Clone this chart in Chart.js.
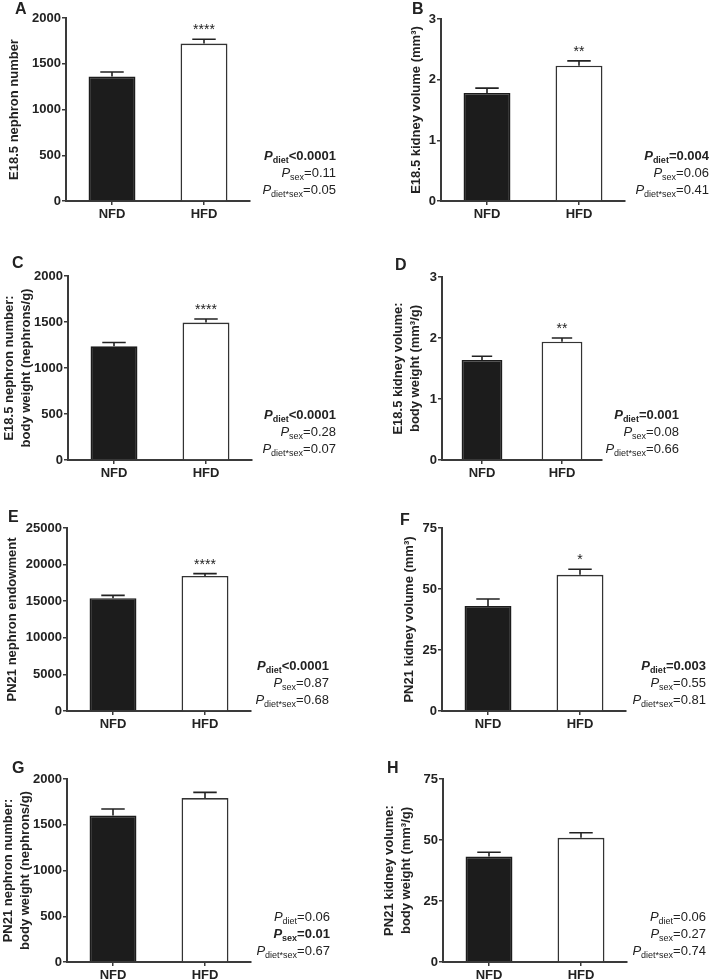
<!DOCTYPE html>
<html>
<head>
<meta charset="utf-8">
<script src="https://cdn.jsdelivr.net/npm/chart.js@4"></script>
<style>
    body { margin: 0; background: #fff; }
    #page { position: relative; width: 710px; height: 979px; overflow: hidden; background: #fff; }
    #page canvas { position: absolute; }
</style>
</head>
<body>
<div id="page"></div>
<script>
// Diet groups on every x axis
const GROUPS = ['NFD', 'HFD'];

const nephronE18 = [1360, 1720];
const nephronE18Sem = [50, 48];
const volumeE18 = [1.78, 2.23];
const volumeE18Sem = [0.08, 0.08];
const nephronBwE18 = [1236, 1494];
const nephronBwE18Sem = [41, 38];
const volumeBwE18 = [1.64, 1.94];
const volumeBwE18Sem = [0.06, 0.06];
const nephronPN21 = [15400, 18440];
const nephronPN21Sem = [400, 330];
const volumePN21 = [43.0, 55.8];
const volumePN21Sem = [2.9, 2.3];
const nephronBwPN21 = [1600, 1792];
const nephronBwPN21Sem = [72, 62];
const volumeBwPN21 = [43.2, 50.9];
const volumeBwPN21Sem = [1.8, 2.1];

// Two-way ANOVA p values: diet, sex, diet*sex
const pA = ['<0.0001', '=0.11', '=0.05'];
const pB = ['=0.004', '=0.06', '=0.41'];
const pC = ['<0.0001', '=0.28', '=0.07'];
const pD = ['=0.001', '=0.08', '=0.66'];
const pE = ['<0.0001', '=0.87', '=0.68'];
const pF = ['=0.003', '=0.55', '=0.81'];
const pG = ['=0.06', '=0.01', '=0.67'];
const pH = ['=0.06', '=0.27', '=0.74'];
const P_TERMS = ['diet', 'sex', 'diet*sex'];

const INK = '#222';
const AXIS = '#3a3a3a';
const FONT = "'Liberation Sans', Arial, sans-serif";

// Panel layout (page pixels)
const PANELS = [
    { letter: 'A', title: 'E18.5 nephron number', means: nephronE18, sem: nephronE18Sem, stars: '****',
      yMax: 2000, yStep: 500, p: pA, bold: 0,
      box: [0, 0, 235], axisL: 66, axisR: 250, top: 18, bottom: 201, pRight: 336, titlePad: 6, letterAt: [15, 14] },
    { letter: 'B', title: 'E18.5 kidney volume (mm³)', means: volumeE18, sem: volumeE18Sem, stars: '**',
      yMax: 3, yStep: 1, p: pB, bold: 0,
      box: [355, 0, 235], axisL: 441, axisR: 625, top: 19, bottom: 201, pRight: 709, titlePad: 53, letterAt: [57, 14] },
    { letter: 'C', title: ['E18.5 nephron number:', 'body weight (nephrons/g)'], means: nephronBwE18, sem: nephronBwE18Sem, stars: '****',
      yMax: 2000, yStep: 500, p: pC, bold: 0,
      box: [0, 240, 250], axisL: 68, axisR: 252, top: 276, bottom: 460, pRight: 336, titlePad: 1, letterAt: [12, 28] },
    { letter: 'D', title: ['E18.5 kidney volume:', 'body weight (mm³/g)'], means: volumeBwE18, sem: volumeBwE18Sem, stars: '**',
      yMax: 3, yStep: 1, p: pD, bold: 0,
      box: [355, 240, 250], axisL: 442, axisR: 602, top: 277, bottom: 460, pRight: 679, titlePad: 35, letterAt: [40, 30] },
    { letter: 'E', title: 'PN21 nephron endowment', means: nephronPN21, sem: nephronPN21Sem, stars: '****',
      yMax: 25000, yStep: 5000, p: pE, bold: 0,
      box: [0, 480, 261], axisL: 67, axisR: 251, top: 528, bottom: 711, pRight: 329, titlePad: 4, letterAt: [8, 42] },
    { letter: 'F', title: 'PN21 kidney volume (mm³)', means: volumePN21, sem: volumePN21Sem, stars: '*',
      yMax: 75, yStep: 25, p: pF, bold: 0,
      box: [355, 480, 261], axisL: 442, axisR: 626, top: 528, bottom: 711, pRight: 706, titlePad: 46, letterAt: [45, 45] },
    { letter: 'G', title: ['PN21 nephron number:', 'body weight (nephrons/g)'], means: nephronBwPN21, sem: nephronBwPN21Sem, stars: '',
      yMax: 2000, yStep: 500, p: pG, bold: 1,
      box: [0, 720, 259], axisL: 67, axisR: 251, top: 779, bottom: 962, pRight: 330, titlePad: 0, letterAt: [12, 53] },
    { letter: 'H', title: ['PN21 kidney volume:', 'body weight (mm³/g)'], means: volumeBwPN21, sem: volumeBwPN21Sem, stars: '',
      yMax: 75, yStep: 25, p: pH, bold: -1,
      box: [355, 720, 259], axisL: 443, axisR: 627, top: 779, bottom: 962, pRight: 706, titlePad: 26, letterAt: [32, 53] }
];

// Error bars, stars, p values and panel letter
const decorPlugin = {
    id: 'decor',
    afterDatasetsDraw(chart, args, opts) {
        const panel = opts.panel;
        const ctx = chart.ctx;
        const ys = chart.scales.y;
        const meta = chart.getDatasetMeta(0);
        ctx.save();

        // SEM bars (upper only)
        ctx.strokeStyle = INK;
        ctx.lineWidth = 1.6;
        meta.data.forEach((bar, i) => {
            const x = bar.x;
            const y0 = ys.getPixelForValue(panel.means[i]);
            const y1 = ys.getPixelForValue(panel.means[i] + panel.sem[i]);
            const cap = bar.width * 0.25;
            ctx.beginPath();
            ctx.moveTo(x, y0);
            ctx.lineTo(x, y1);
            ctx.moveTo(x - cap, y1);
            ctx.lineTo(x + cap, y1);
            ctx.stroke();
        });

        // Significance stars above HFD
        if (panel.stars) {
            const hfd = meta.data[1];
            const yTop = ys.getPixelForValue(panel.means[1] + panel.sem[1]);
            ctx.fillStyle = INK;
            ctx.font = `14px ${FONT}`;
            ctx.textAlign = 'center';
            ctx.textBaseline = 'alphabetic';
            ctx.fillText(panel.stars, hfd.x, yTop - 5);
        }

        // P values, right aligned
        const right = panel.pRight - panel.box[0];
        const base = chart.chartArea.bottom;
        const offsets = [41, 24, 7];
        ctx.fillStyle = INK;
        ctx.textAlign = 'left';
        ctx.textBaseline = 'alphabetic';
        panel.p.forEach((val, i) => {
            const w = i === panel.bold ? 'bold ' : '';
            const parts = [
                { t: 'P', f: `italic ${w}13px ${FONT}`, dy: 0 },
                { t: P_TERMS[i], f: `${w}9px ${FONT}`, dy: 3 },
                { t: val, f: `${w}13px ${FONT}`, dy: 0 }
            ];
            let total = 0;
            parts.forEach(pt => { ctx.font = pt.f; pt.w = ctx.measureText(pt.t).width; total += pt.w; });
            let x = right - total;
            const y = base - offsets[i];
            parts.forEach(pt => {
                ctx.font = pt.f;
                ctx.fillText(pt.t, x, y + pt.dy);
                x += pt.w;
            });
        });

        // Panel letter
        ctx.font = `bold 16px ${FONT}`;
        ctx.fillText(panel.letter, panel.letterAt[0], panel.letterAt[1]);
        ctx.restore();
    }
};

function renderPanel(panel) {
    const page = document.getElementById('page');
    const canvas = document.createElement('canvas');
    const [bx, by, bh] = panel.box;
    const bw = 355;
    canvas.width = bw;
    canvas.height = bh;
    canvas.style.left = bx + 'px';
    canvas.style.top = by + 'px';
    page.appendChild(canvas);

    const left = panel.axisL - bx;
    const right = panel.axisR - bx;
    const top = panel.top - by;
    const bottom = panel.bottom - by;

    new Chart(canvas, {
        type: 'bar',
        data: {
            labels: GROUPS,
            datasets: [{
                data: panel.means,
                backgroundColor: ['#1c1c1c', '#ffffff'],
                borderColor: ['#1c1c1c', '#333333'],
                borderWidth: 1.6,
                categoryPercentage: 1,
                barPercentage: 0.51
            }]
        },
        options: {
            responsive: false,
            animation: false,
            events: [],
            layout: { padding: { left: 0, top: top, right: bw - right, bottom: 0 } },
            plugins: {
                legend: { display: false },
                tooltip: { enabled: false },
                decor: { panel: panel }
            },
            scales: {
                x: {
                    grid: { drawOnChartArea: false, offset: false, tickLength: 4, color: AXIS, lineWidth: 1.5 },
                    border: { color: AXIS, width: 2 },
                    ticks: { color: INK, padding: 2, font: { family: FONT, size: 13, weight: 'bold' } },
                    afterFit: s => { s.height = bh - bottom; }
                },
                y: {
                    min: 0,
                    max: panel.yMax,
                    grid: { drawOnChartArea: false, tickLength: 4, color: AXIS, lineWidth: 1.5 },
                    border: { color: AXIS, width: 2 },
                    ticks: {
                        stepSize: panel.yStep,
                        color: INK,
                        padding: 1,
                        font: { family: FONT, size: 13, weight: 'bold' },
                        callback: v => String(v)
                    },
                    title: {
                        display: true,
                        text: panel.title,
                        color: INK,
                        padding: { top: panel.titlePad, bottom: 0 },
                        font: { family: FONT, size: 13, weight: 'bold', lineHeight: 1.3 }
                    },
                    afterFit: s => { s.width = left; }
                }
            }
        },
        plugins: [decorPlugin]
    });
}

PANELS.forEach(renderPanel);
</script>
</body>
</html>
